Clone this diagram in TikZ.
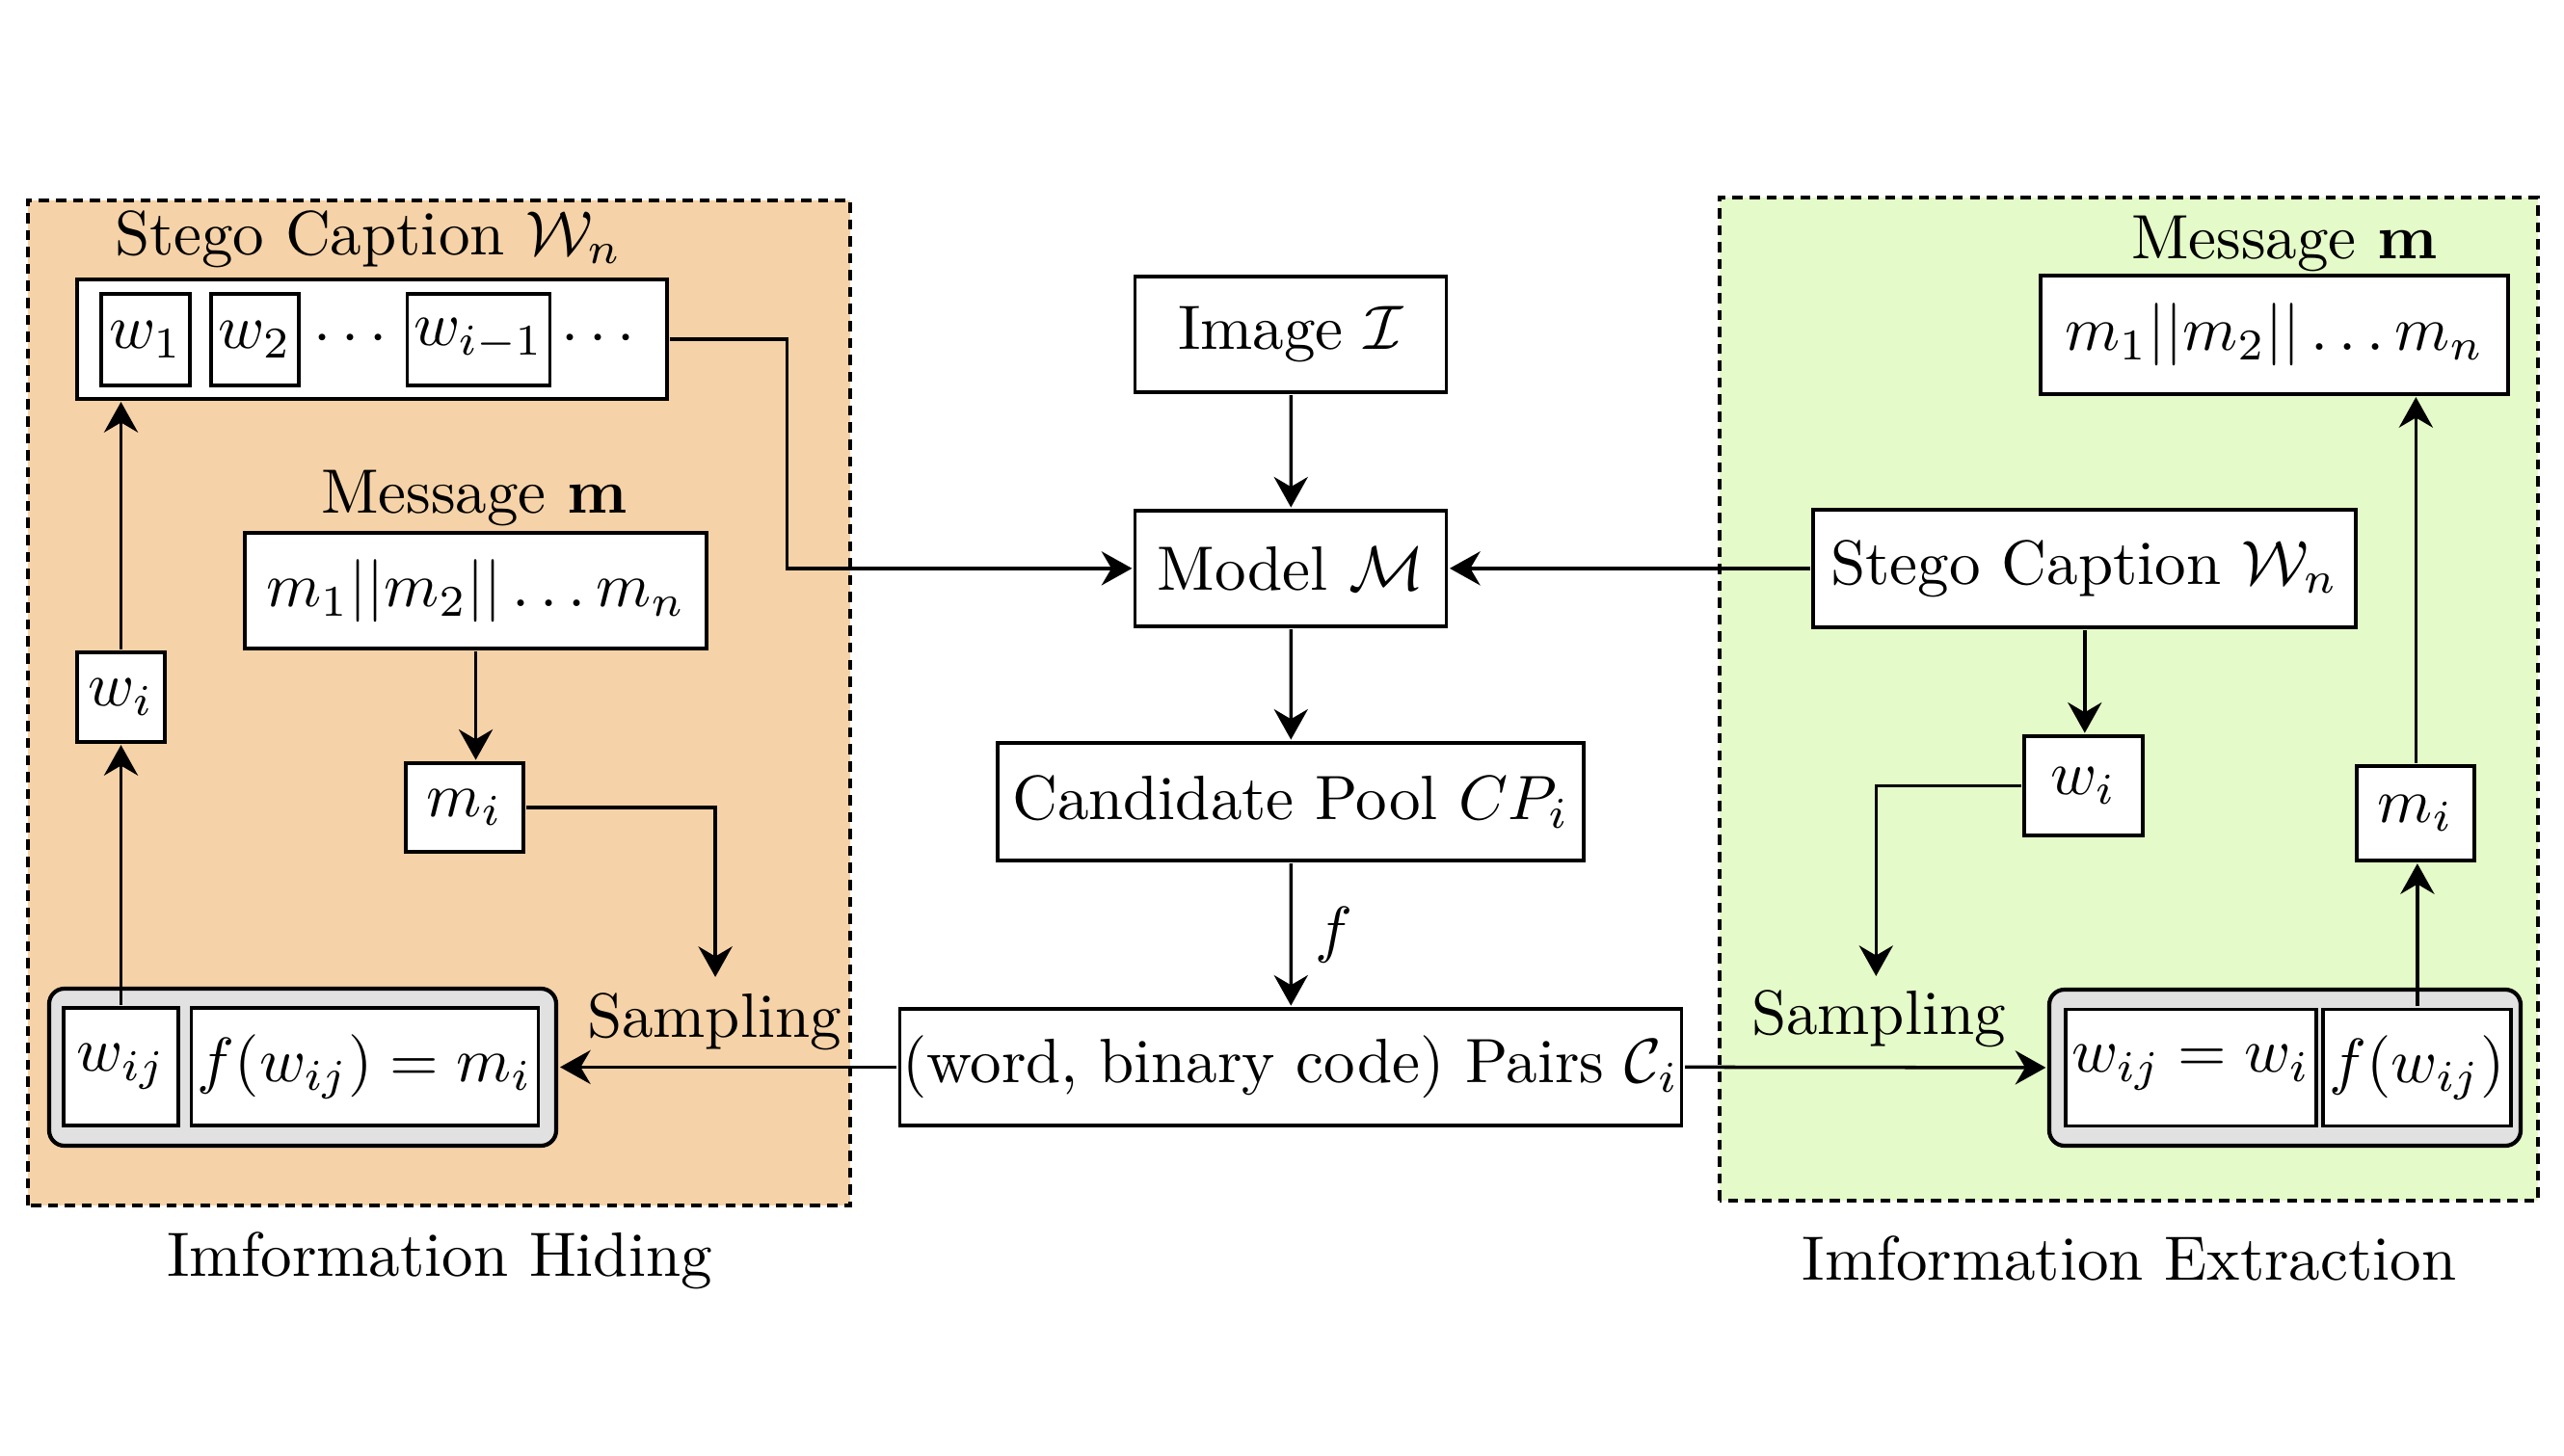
\documentclass[tikz,border=0pt]{standalone}
\usepackage{amsmath}
\usetikzlibrary{arrows.meta}
\definecolor{hidefill}{RGB}{245,210,167}
\definecolor{extrfill}{RGB}{228,250,200}
\definecolor{grpfill}{RGB}{225,225,225}

\begin{document}
\begin{tikzpicture}[x=0.5405cm, y=0.5405cm, scale=1.85,
        every node/.style={transform shape},
        >={Stealth[length=9pt,width=10pt]}, line width=1pt,
        sz/.style 2 args={minimum width=#1cm/1.85, minimum height=#2cm/1.85},
        blk/.style={draw, fill=white, inner sep=1pt},
        grp/.style={draw, fill=grpfill, rounded corners=4.5pt, line width=1.2pt},
        zone/.style={draw, dash pattern=on 3pt off 2pt, line width=0.9pt}]
        \useasboundingbox (0,0) rectangle (26.6,15.1);
        \draw[zone, fill=hidefill] (0.29,2.59) rectangle (8.82,13.02);
        \draw[zone, fill=extrfill] (17.84,2.64) rectangle (26.33,13.05);
        \node (hide) at (4.56,2.02) {Imformation Hiding};
        \node (extr) at (22.09,2.04) {Imformation Extraction};
        \node[blk, sz={3.23}{1.2}] (img) at (13.39,11.63) {Image $\mathcal{I}$};
        \node[blk, sz={3.23}{1.2}] (model) at (13.39,9.20) {Model $\mathcal{M}$};
        \node[blk, sz={6.08}{1.22}] (pool) at (13.39,6.78) {Candidate Pool $CP_i$};
        \node[blk, inner sep=0pt, sz={8.11}{1.21}] (pairs) at (13.39,4.025) {(word, binary code) Pairs $\mathcal{C}_i$};
        \node (caplbl) at (3.82,12.62) {Stego Caption $\mathcal{W}_n$};
        \node[blk, sz={6.12}{1.24}] (cap) at (3.86,11.58) {};
        \node[blk, sz={0.92}{0.95}] (w1) at (1.51,11.575) {$w_1$};
        \node[blk, sz={0.91}{0.95}] (w2) at (2.645,11.575) {$w_2$};
        \node (dots1) at (3.69,11.575) {$\cdots$};
        \node[blk, sz={1.41}{0.95}] (wprev) at (4.965,11.575) {$w_{i-1}$};
        \node (dots2) at (6.26,11.575) {$\cdots$};
        \node (msglbl) at (4.92,9.93) {Message $\mathbf{m}$};
        \node[blk, sz={4.79}{1.2}] (msg) at (4.935,8.97) {$m_1||m_2||\ldots m_n$};
        \node[blk, sz={1.22}{0.92}] (mi) at (4.82,6.72) {$m_i$};
        \node[blk, sz={0.91}{0.93}] (wi) at (1.255,7.865) {$w_i$};
        \node[grp, sz={5.26}{1.63}] (grp1) at (3.14,4.025) {};
        \node[blk, sz={1.19}{1.22}] (wij) at (1.255,4.03) {$w_{ij}$};
        \node[blk, sz={3.57}{1.22}] (fwij) at (3.785,4.03) {$f(w_{ij})=m_i$};
        \coordinate (smp1) at (7.42,4.96);
        \node (smplbl1) at (7.41,4.50) {Sampling};
        \node (msglbl2) at (23.70,12.57) {Message $\mathbf{m}$};
        \node[blk, sz={4.85}{1.23}] (msg2) at (23.595,11.625) {$m_1||m_2||\ldots m_n$};
        \node[blk, sz={5.63}{1.22}] (cap2) at (21.625,9.20) {Stego Caption $\mathcal{W}_n$};
        \node[blk, sz={1.23}{1.03}] (wi2) at (21.615,6.945) {$w_i$};
        \node[blk, sz={1.22}{0.98}] (mi2) at (25.06,6.66) {$m_i$};
        \node[grp, sz={4.89}{1.62}] (grp2) at (23.705,4.02) {};
        \node[blk, sz={2.54}{1.21}] (wijeq) at (22.73,4.02) {$w_{ij}=w_i$};
        \node[blk, sz={1.83}{1.21}] (fwij2) at (25.075,4.02) {$f(w_{ij})$};
        \coordinate (smp2) at (19.46,4.97);
        \node (smplbl2) at (19.49,4.53) {Sampling};
        \draw[->] (img) -- (model);
        \draw[->] (model) -- (pool);
        \draw[->] (pool) -- node[right] {$f$} (pairs);
        \draw[->] (pairs.west) -- (grp1.east);
        \draw[->] (pairs.east) -- (grp2.west);
        \draw[->] (cap.east) -- ++(1.21,0) |- (model.west);
        \draw[->] (cap2.west) -- (model.east);
        \draw[->] (msg.south) -- (msg.south |- mi.north);
        \draw[->] (mi.east) -| (smp1);
        \draw[->] (wij.north) -- (wi.south);
        \draw[->] (wi.north) -- (wi.north |- cap.south);
        \draw[->] (cap2.south) -- (cap2.south |- wi2.north);
        \draw[->] (wi2.west) -| (smp2);
        \draw[->] (fwij2.north) -- (fwij2.north |- mi2.south);
        \draw[->] (mi2.north) -- (mi2.north |- msg2.south);
      \end{tikzpicture}
\end{document}
